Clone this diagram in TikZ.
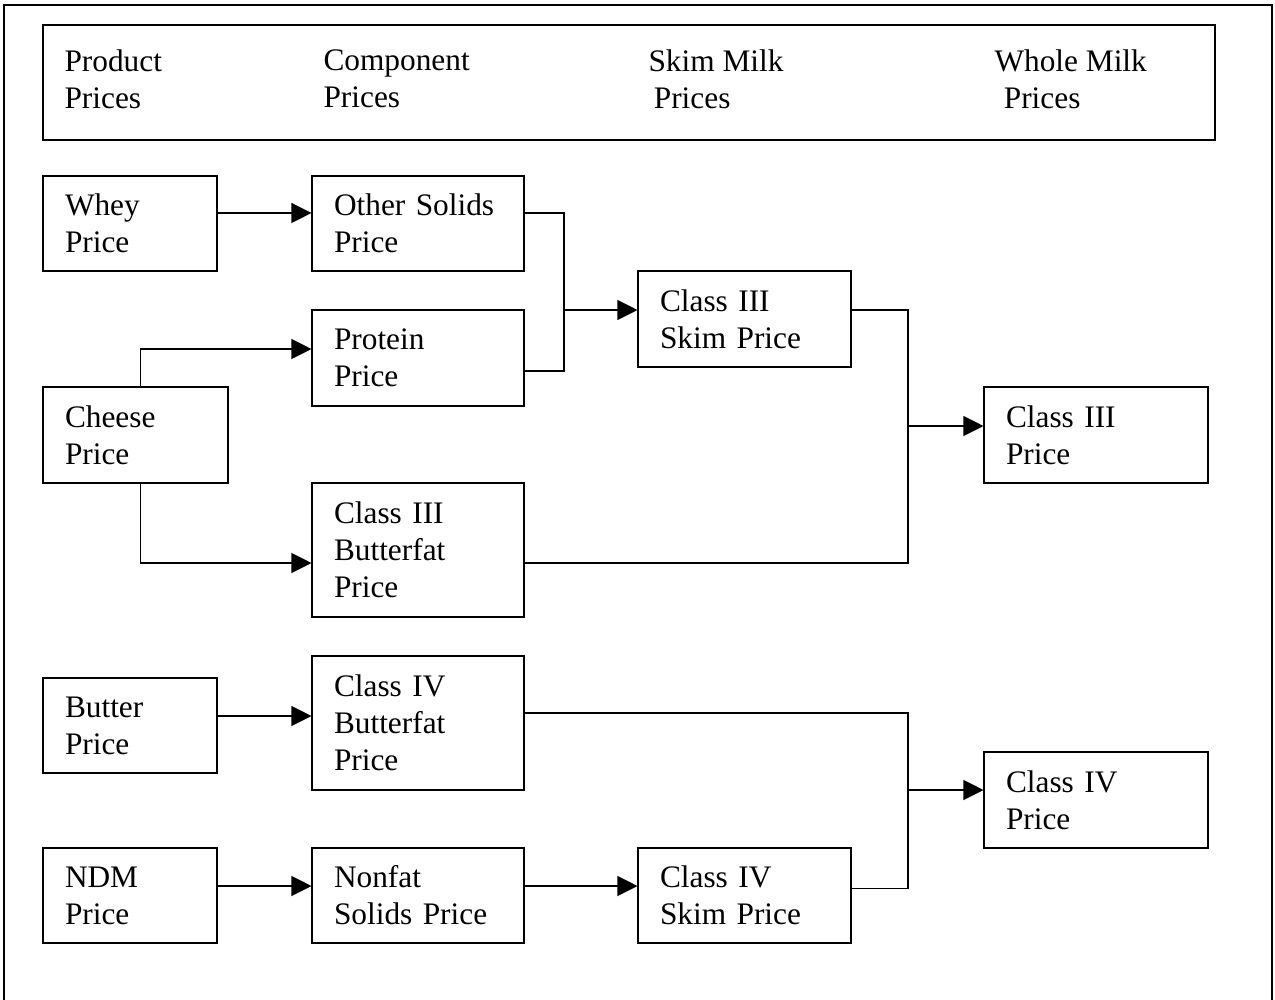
\documentclass[tikz,border=0pt]{standalone}
\usepackage{fontspec}
\setmainfont{Liberation Serif}
\usetikzlibrary{arrows.meta}
\begin{document}
\begin{tikzpicture}[x=0.75pt, y=-0.75pt, line width=0.8pt, every node/.style={font=\fontsize{23.5}{27.75}\selectfont},
  pbox/.style={draw, align=left, inner xsep=16.5pt, inner ysep=0pt},
  arr/.style={-{Triangle[length=15pt,width=15pt]}}]
  \useasboundingbox (0,0) rectangle (1275,1000);
  \draw[line width=1pt] (4,1000) -- (4,5) -- (1272,5) -- (1272,1000);
  \node[draw, minimum width=879pt, minimum height=86.25pt, inner sep=0pt] (hdr) at (629,82.5) {};
  \node[anchor=west, align=left, inner sep=0pt] (hprod) at (64,79) {Product\\Prices};
  \node[anchor=west, align=left, inner sep=0pt] (hcomp) at (323,79) {Component\\Prices};
  \node[anchor=west, align=left, inner sep=0pt] (hskim) at (648,79) {Skim Milk\\\hspace*{4pt}Prices};
  \node[anchor=west, align=left, inner sep=0pt] (hwhole) at (994,79) {Whole Milk\\\hspace*{7pt}Prices};
  \node[pbox, text width=97.5pt, minimum height=71.25pt] (whey) at (130,223.5) {Whey\\Price};
  \node[pbox, text width=126pt, minimum height=71.25pt] (osol) at (418,223.5) {Other Solids\\Price};
  \node[pbox, text width=126pt, minimum height=72pt] (prot) at (418,358) {Protein\\Price};
  \node[pbox, text width=105.75pt, minimum height=72pt] (cheese) at (135.5,435) {Cheese\\Price};
  \node[pbox, text width=126pt, minimum height=100.5pt] (cthreebf) at (418,550) {Class III\\Butterfat\\Price};
  \node[pbox, text width=126.75pt, minimum height=72pt] (cthreeskim) at (744.5,319) {Class III\\Skim Price};
  \node[pbox, text width=135pt, minimum height=72pt] (cthree) at (1096,435) {Class III\\Price};
  \node[pbox, text width=97.5pt, minimum height=71.25pt] (butter) at (130,725.5) {Butter\\Price};
  \node[pbox, text width=126pt, minimum height=100.5pt] (cfourbf) at (418,723) {Class IV\\Butterfat\\Price};
  \node[pbox, text width=97.5pt, minimum height=71.25pt] (ndm) at (130,895.5) {NDM\\Price};
  \node[pbox, text width=126pt, minimum height=71.25pt] (nonfat) at (418,895.5) {Nonfat\\Solids Price};
  \node[pbox, text width=126.75pt, minimum height=71.25pt] (cfourskim) at (744.5,895.5) {Class IV\\Skim Price};
  \node[pbox, text width=135pt, minimum height=72pt] (cfour) at (1096,800) {Class IV\\Price};
  \coordinate (jone) at (564,310);
  \coordinate (jtwo) at (908,426);
  \coordinate (jthree) at (908,790);
  \draw[arr] ([yshift=7.9pt]whey.east) -- ([yshift=7.9pt]osol.west);
  \draw ([yshift=7.9pt]osol.east) -| (jone) |- ([yshift=-9.75pt]prot.east);
  \draw[arr] (jone) -- ([yshift=6.75pt]cthreeskim.west);
  \draw[arr] ([xshift=3.4pt]cheese.north) |- ([yshift=6.75pt]prot.west);
  \draw[arr] ([xshift=3.4pt]cheese.south) |- ([yshift=-9.75pt]cthreebf.west);
  \draw ([yshift=6.75pt]cthreeskim.east) -| (jtwo) |- ([yshift=-9.75pt]cthreebf.east);
  \draw[arr] (jtwo) -- ([yshift=6.75pt]cthree.west);
  \draw[arr] ([yshift=7.125pt]butter.east) -- ([yshift=5.25pt]cfourbf.west);
  \draw ([yshift=7.5pt]cfourbf.east) -| (jthree) |- ([yshift=5.6pt]cfourskim.east);
  \draw[arr] (jthree) -- ([yshift=7.5pt]cfour.west);
  \draw[arr] ([yshift=7.125pt]ndm.east) -- ([yshift=7.125pt]nonfat.west);
  \draw[arr] ([yshift=7.125pt]nonfat.east) -- ([yshift=7.125pt]cfourskim.west);
\end{tikzpicture}
\end{document}
